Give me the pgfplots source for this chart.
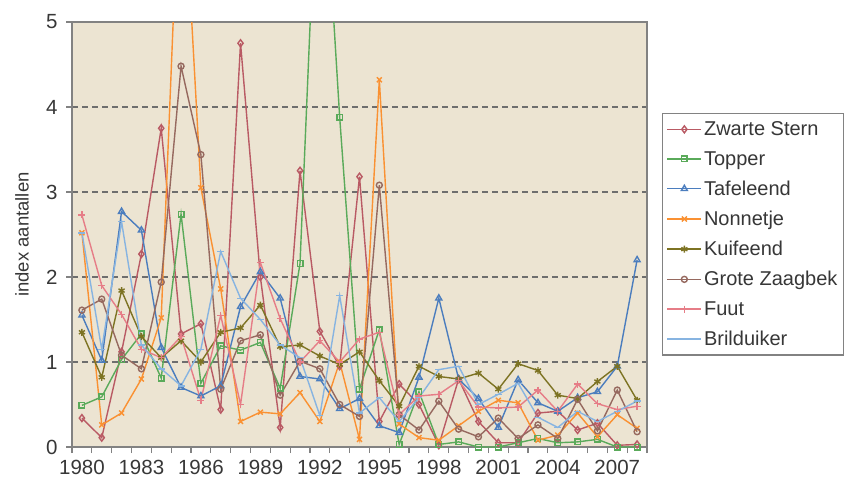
\documentclass[border=0pt]{standalone}
\usepackage{fontspec}
\setmainfont{Liberation Sans}
\usepackage{pgfplots}
\pgfplotsset{compat=1.18}
\usepackage{pgfplotstable}

\definecolor{cZS}{RGB}{185,90,100}
\definecolor{cTO}{RGB}{90,170,90}
\definecolor{cTA}{RGB}{75,125,190}
\definecolor{cNO}{RGB}{250,145,50}
\definecolor{cKU}{RGB}{125,115,35}
\definecolor{cGZ}{RGB}{150,105,95}
\definecolor{cFU}{RGB}{230,125,135}
\definecolor{cBR}{RGB}{135,180,225}
\definecolor{bg}{RGB}{236,228,210}
\definecolor{axgray}{RGB}{130,130,130}
\definecolor{gridgray}{RGB}{110,110,110}
\definecolor{txt}{RGB}{55,55,55}

\pgfplotstableread{
year zs to ta no ku gz fu br
1980 0.34 0.49 1.55 2.52 1.35 1.61 2.73 2.52
1981 0.11 0.59 1.02 0.26 0.82 1.74 1.90 1.15
1982 1.12 1.03 2.77 0.40 1.84 1.08 1.56 2.65
1983 2.27 1.33 2.55 0.80 1.30 0.92 1.15 1.20
1984 3.75 0.81 1.17 1.52 1.05 1.94 1.05 0.92
1985 1.33 2.74 0.70 7.30 1.25 4.48 1.30 0.72
1986 1.45 0.75 0.60 3.05 1.00 3.44 0.55 1.15
1987 0.44 1.19 0.72 1.86 1.35 0.68 1.55 2.30
1988 4.75 1.14 1.65 0.30 1.40 1.25 0.50 1.75
1989 2.00 1.23 2.06 0.41 1.67 1.32 2.17 1.50
1990 0.23 0.69 1.75 0.39 1.18 0.61 1.51 1.20
1991 3.25 2.16 0.83 0.64 1.20 1.01 1.00 1.05
1992 1.36 7.70 0.80 0.30 1.07 0.92 1.25 0.37
1993 0.95 3.88 0.45 1.00 0.97 0.50 1.00 1.78
1994 3.18 0.68 0.57 0.09 1.12 0.36 1.27 0.40
1995 0.30 1.38 0.25 4.32 0.78 3.08 1.35 0.58
1996 0.74 0.03 0.17 0.27 0.48 0.38 0.38 0.30
1997 0.50 0.65 0.82 0.11 0.95 0.20 0.60 0.58
1998 0.02 0.03 1.75 0.08 0.83 0.54 0.62 0.91
1999 0.80 0.06 0.80 0.25 0.80 0.21 0.78 0.95
2000 0.30 0.00 0.57 0.42 0.87 0.12 0.47 0.50
2001 0.05 0.00 0.23 0.55 0.68 0.34 0.46 0.62
2002 0.05 0.05 0.79 0.52 0.98 0.10 0.47 0.75
2003 0.40 0.10 0.52 0.08 0.90 0.26 0.67 0.35
2004 0.42 0.05 0.42 0.14 0.61 0.10 0.42 0.23
2005 0.20 0.06 0.58 0.40 0.57 0.56 0.74 0.42
2006 0.28 0.09 0.65 0.12 0.77 0.19 0.51 0.30
2007 0.02 0.00 0.95 0.38 0.95 0.67 0.44 0.42
2008 0.03 0.00 2.20 0.22 0.55 0.18 0.48 0.54
}\data

\begin{document}
\begin{tikzpicture}
\path[use as bounding box] (0pt,0pt) rectangle (846pt,483pt);
\begin{axis}[
  at={(72pt,36pt)}, anchor=south west,
  scale only axis, width=575pt, height=425pt,
  xmin=1979.5, xmax=2008.5, ymin=0, ymax=5,
  xtick={1980,1983,...,2007},
  minor xtick={1979.5,1980.5,...,2008.5},
  ytick={0,1,...,5},
  major x tick style=transparent,
  tick align=outside, xtick pos=left, ytick pos=left,
  major tick length=6pt, minor tick length=6pt,
  tick style={color=axgray, line width=1.2pt},
  axis line style={draw=axgray, line width=1.6pt},
  axis background/.style={fill=bg},
  ymajorgrids,
  grid style={draw=gridgray, line width=1.1pt, dash pattern=on 6pt off 4pt},
  /pgf/number format/1000 sep={},
  /pgf/number format/assume math mode=true,
  ticklabel style={font=\fontsize{20.5}{22}\selectfont, text=txt},
  xticklabel style={yshift=-4pt},
  yticklabel style={xshift=-5pt},
  ylabel={index aantallen},
  ylabel style={font=\fontsize{18.5}{20}\selectfont, text=txt, at={(axis description cs:-0.087,0.5)}, anchor=center},
  every axis plot/.append style={line width=1.4pt},
  legend style={at={(1.026,0.786)}, anchor=north west, draw=axgray, line width=1.4pt, fill=white,
    font=\fontsize{20}{22}\selectfont, text=txt, row sep=10.2pt, inner xsep=4pt, inner ysep=6pt},
  legend cell align=left,
  legend image code/.code={\draw[mark repeat=2,mark phase=2,#1] plot coordinates {(0pt,0pt) (17pt,0pt) (34pt,0pt)};},
]
\addplot[cZS, mark=diamond, mark size=3.5pt, mark options={fill=white, solid}] table[x=year,y=zs]{\data};
\addlegendentry{Zwarte Stern}
\addplot[cTO, mark=square, mark size=2.8pt, mark options={fill=white, solid}] table[x=year,y=to]{\data};
\addlegendentry{Topper}
\addplot[cTA, mark=triangle, mark size=3.5pt, mark options={fill=white, solid}] table[x=year,y=ta]{\data};
\addlegendentry{Tafeleend}
\addplot[cNO, mark=x, mark size=3.5pt, mark options={solid}] table[x=year,y=no]{\data};
\addlegendentry{Nonnetje}
\addplot[cKU, mark=asterisk, mark size=3.5pt, mark options={solid}] table[x=year,y=ku]{\data};
\addlegendentry{Kuifeend}
\addplot[cGZ, mark=o, mark size=3pt, mark options={fill=white, solid}] table[x=year,y=gz]{\data};
\addlegendentry{Grote Zaagbek}
\addplot[cFU, mark=+, mark size=3.5pt, mark options={solid}] table[x=year,y=fu]{\data};
\addlegendentry{Fuut}
\addplot[cBR, mark=-, mark size=3.5pt, mark options={solid}] table[x=year,y=br]{\data};
\addlegendentry{Brilduiker}
\end{axis}
\end{tikzpicture}
\end{document}
